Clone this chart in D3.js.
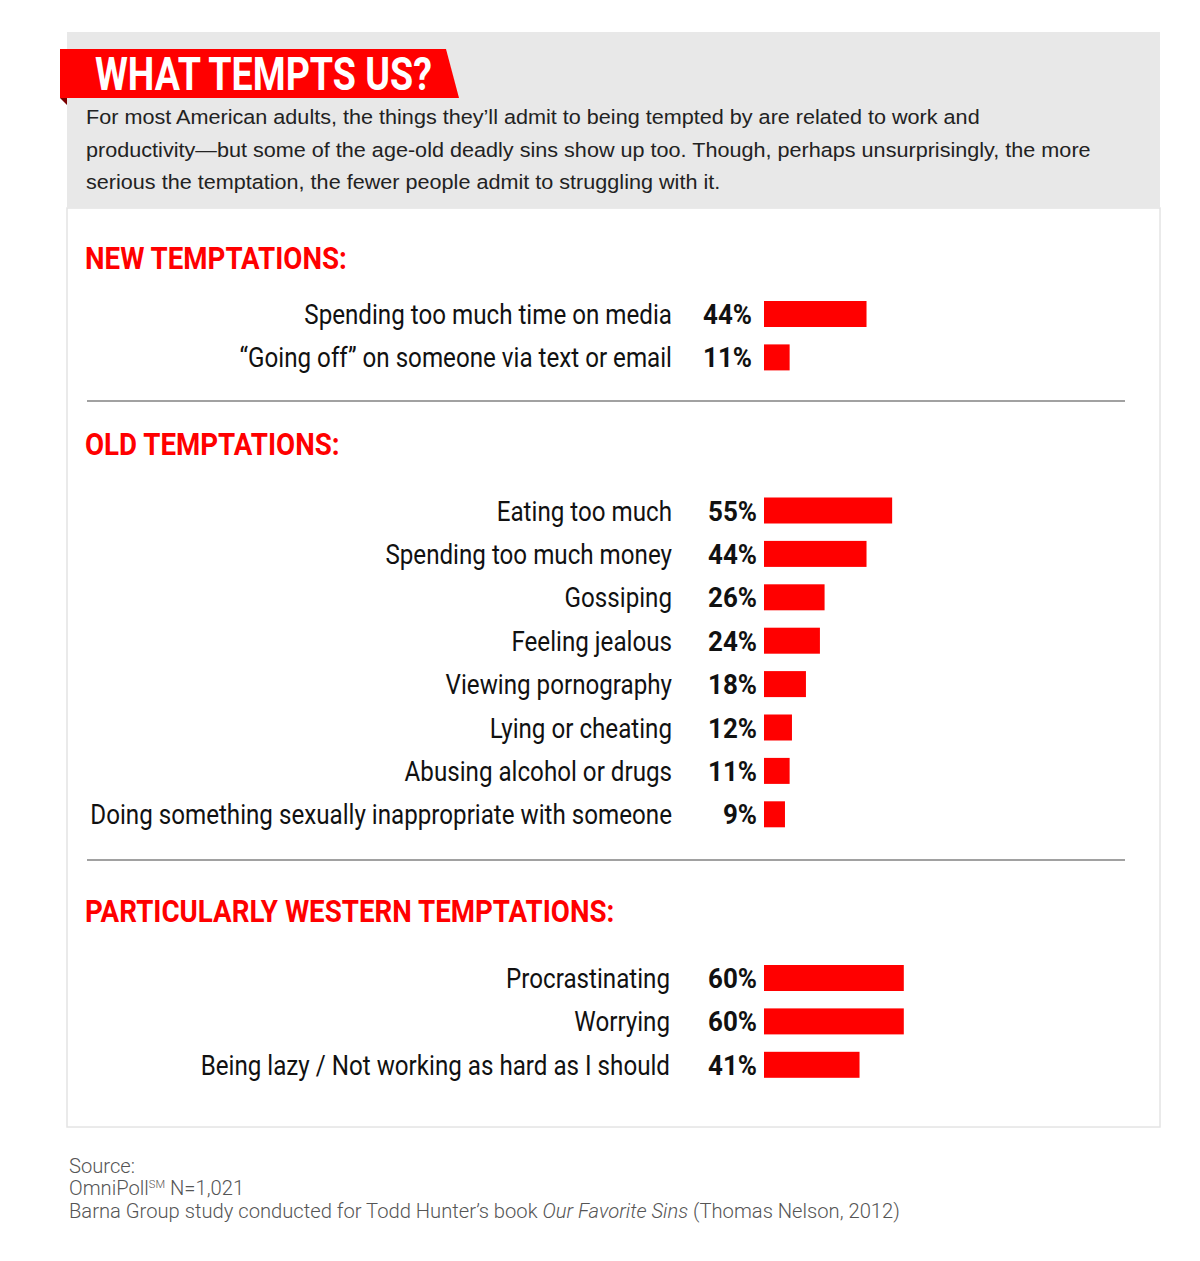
<!DOCTYPE html>
<html>
<head>
<meta charset="utf-8">
<script src="https://cdn.jsdelivr.net/npm/d3@7.9.0/dist/d3.min.js"></script>
<style>
  body { margin: 0; background: #fff; }
  svg { display: block; }
</style>
</head>
<body>
<svg id="vis"></svg>
<script>
const width = 1200;
const height = 1261;

// --- data ---
const newLabels = ["Spending too much time on media", "\u201cGoing off\u201d on someone via text or email"];
const newValues = [44, 11];

const oldLabels = ["Eating too much", "Spending too much money", "Gossiping", "Feeling jealous",
    "Viewing pornography", "Lying or cheating", "Abusing alcohol or drugs",
    "Doing something sexually inappropriate with someone"];
const oldValues = [55, 44, 26, 24, 18, 12, 11, 9];

const westLabels = ["Procrastinating", "Worrying", "Being lazy / Not working as hard as I should"];
const westValues = [60, 60, 41];

const sectionTitles = ["NEW TEMPTATIONS:", "OLD TEMPTATIONS:", "PARTICULARLY WESTERN TEMPTATIONS:"];

const intro = [
    "For most American adults, the things they\u2019ll admit to being tempted by are related to work and",
    "productivity\u2014but some of the age-old deadly sins show up too. Though, perhaps unsurprisingly, the more",
    "serious the temptation, the fewer people admit to struggling with it."
];

const red = "#ff0000";
const sans = "'Liberation Sans', Arial, sans-serif";
const cond = "Roboto, 'Liberation Sans', sans-serif";

const vis = d3.select("#vis")
    .attr("width", width)
    .attr("height", height);

// measure a string so a font can be squeezed to the reference's width
function fitScale(str, family, size, weight, target) {
    const t = vis.append("text")
        .style("font-family", family)
        .style("font-size", size + "px")
        .style("font-weight", weight)
        .text(str);
    const w = t.node().getComputedTextLength();
    t.remove();
    return target / w;
}

// squeezed text, anchored at (x, y)
function squeezed(parent, x, y, sx) {
    return parent.append("text")
        .attr("transform", `translate(${x},${y}) scale(${sx},1)`);
}

// panels
vis.append("rect")
    .attr("x", 67).attr("y", 208).attr("width", 1093).attr("height", 919)
    .attr("fill", "#fff").attr("stroke", "#e4e4e4").attr("stroke-width", 1.5);
vis.append("rect")
    .attr("x", 67).attr("y", 32).attr("width", 1093).attr("height", 176)
    .attr("fill", "#e8e8e8");

// title banner
vis.append("path")
    .attr("d", "M60,98 L67,98 L67,105 Z")
    .attr("fill", "#7a0000");
vis.append("path")
    .attr("d", "M60,49 L446,49 L459,98 L60,98 Z")
    .attr("fill", red);
const titleSx = fitScale("WHAT TEMPTS US?", cond, 46, "bold", 337);
squeezed(vis, 95, 90, titleSx)
    .attr("fill", "#fff")
    .style("font-family", cond)
    .style("font-weight", "bold")
    .style("font-size", "46px")
    .text("WHAT TEMPTS US?");

const introSx = fitScale(intro[0], sans, 19.5, "normal", 894);
intro.forEach((line, i) => {
    squeezed(vis, 86, 124 + i * 32.5, introSx)
        .attr("fill", "#222")
        .style("font-family", sans)
        .style("font-size", "19.5px")
        .text(line);
});

// bars
const x = d3.scaleLinear().domain([0, 100]).range([764, 764 + 233]);

const sections = [
    { title: sectionTitles[0], labels: newLabels, values: newValues, titleY: 269, firstRow: 314, labelX: 672, pctX: 752 },
    { title: sectionTitles[1], labels: oldLabels, values: oldValues, titleY: 455, firstRow: 510.5, labelX: 672, pctX: 757 },
    { title: sectionTitles[2], labels: westLabels, values: westValues, titleY: 922, firstRow: 978, labelX: 670, pctX: 757 }
];
const rowStep = 43.4;

const headSx = fitScale(sectionTitles[0], cond, 31, "bold", 262);
const labelSx = fitScale(newLabels[0], cond, 27, "normal", 368);
const pctSx = fitScale("44%", cond, 27, "bold", 49);

sections.forEach(s => {
    const g = vis.append("g");

    squeezed(g, 85, s.titleY, headSx)
        .attr("fill", red)
        .style("font-family", cond)
        .style("font-weight", "bold")
        .style("font-size", "31px")
        .text(s.title);

    const rows = s.labels.map((l, i) => ({ label: l, value: s.values[i] }));
    const y = d3.scaleBand()
        .domain(s.labels)
        .range([s.firstRow - rowStep / 2, s.firstRow - rowStep / 2 + rowStep * s.labels.length])
        .paddingInner(0.4).paddingOuter(0.2);
    const mid = d => y(d.label) + y.bandwidth() / 2;

    g.selectAll("rect")
        .data(rows)
        .join("rect")
        .attr("x", x(0))
        .attr("y", d => mid(d) - 13)
        .attr("width", d => x(d.value) - x(0))
        .attr("height", 26)
        .attr("fill", red);

    g.selectAll("text.label")
        .data(rows)
        .join("text")
        .attr("class", "label")
        .attr("transform", d => `translate(${s.labelX},${mid(d) + 10}) scale(${labelSx},1)`)
        .attr("text-anchor", "end")
        .attr("fill", "#111")
        .style("font-family", cond)
        .style("font-size", "27px")
        .text(d => d.label);

    g.selectAll("text.pct")
        .data(rows)
        .join("text")
        .attr("class", "pct")
        .attr("transform", d => `translate(${s.pctX},${mid(d) + 10}) scale(${pctSx},1)`)
        .attr("text-anchor", "end")
        .attr("fill", "#111")
        .style("font-family", cond)
        .style("font-weight", "bold")
        .style("font-size", "27px")
        .text(d => d.value + "%");
});

// dividers
[401, 860].forEach(yy => {
    vis.append("line")
        .attr("x1", 87).attr("x2", 1125)
        .attr("y1", yy).attr("y2", yy)
        .attr("stroke", "#444").attr("stroke-width", 1.2);
});

// footer
const footSx = fitScale("Barna Group study conducted for Todd Hunter\u2019s book Our Favorite Sins (Thomas Nelson, 2012)",
    cond, 20, "300", 836);
const foot = vis.append("g")
    .attr("fill", "#555")
    .style("font-family", cond)
    .style("font-weight", "300")
    .style("font-size", "20px");
squeezed(foot, 69, 1173, footSx).text("Source:");
const l2 = squeezed(foot, 69, 1195, footSx);
l2.append("tspan").text("OmniPoll");
l2.append("tspan").attr("dy", -7).style("font-size", "11px").text("SM");
l2.append("tspan").attr("dy", 7).text(" N=1,021");
const l3 = squeezed(foot, 69, 1218, footSx);
l3.append("tspan").text("Barna Group study conducted for Todd Hunter\u2019s book ");
l3.append("tspan").style("font-style", "italic").text("Our Favorite Sins");
l3.append("tspan").text(" (Thomas Nelson, 2012)");
</script>
</body>
</html>
